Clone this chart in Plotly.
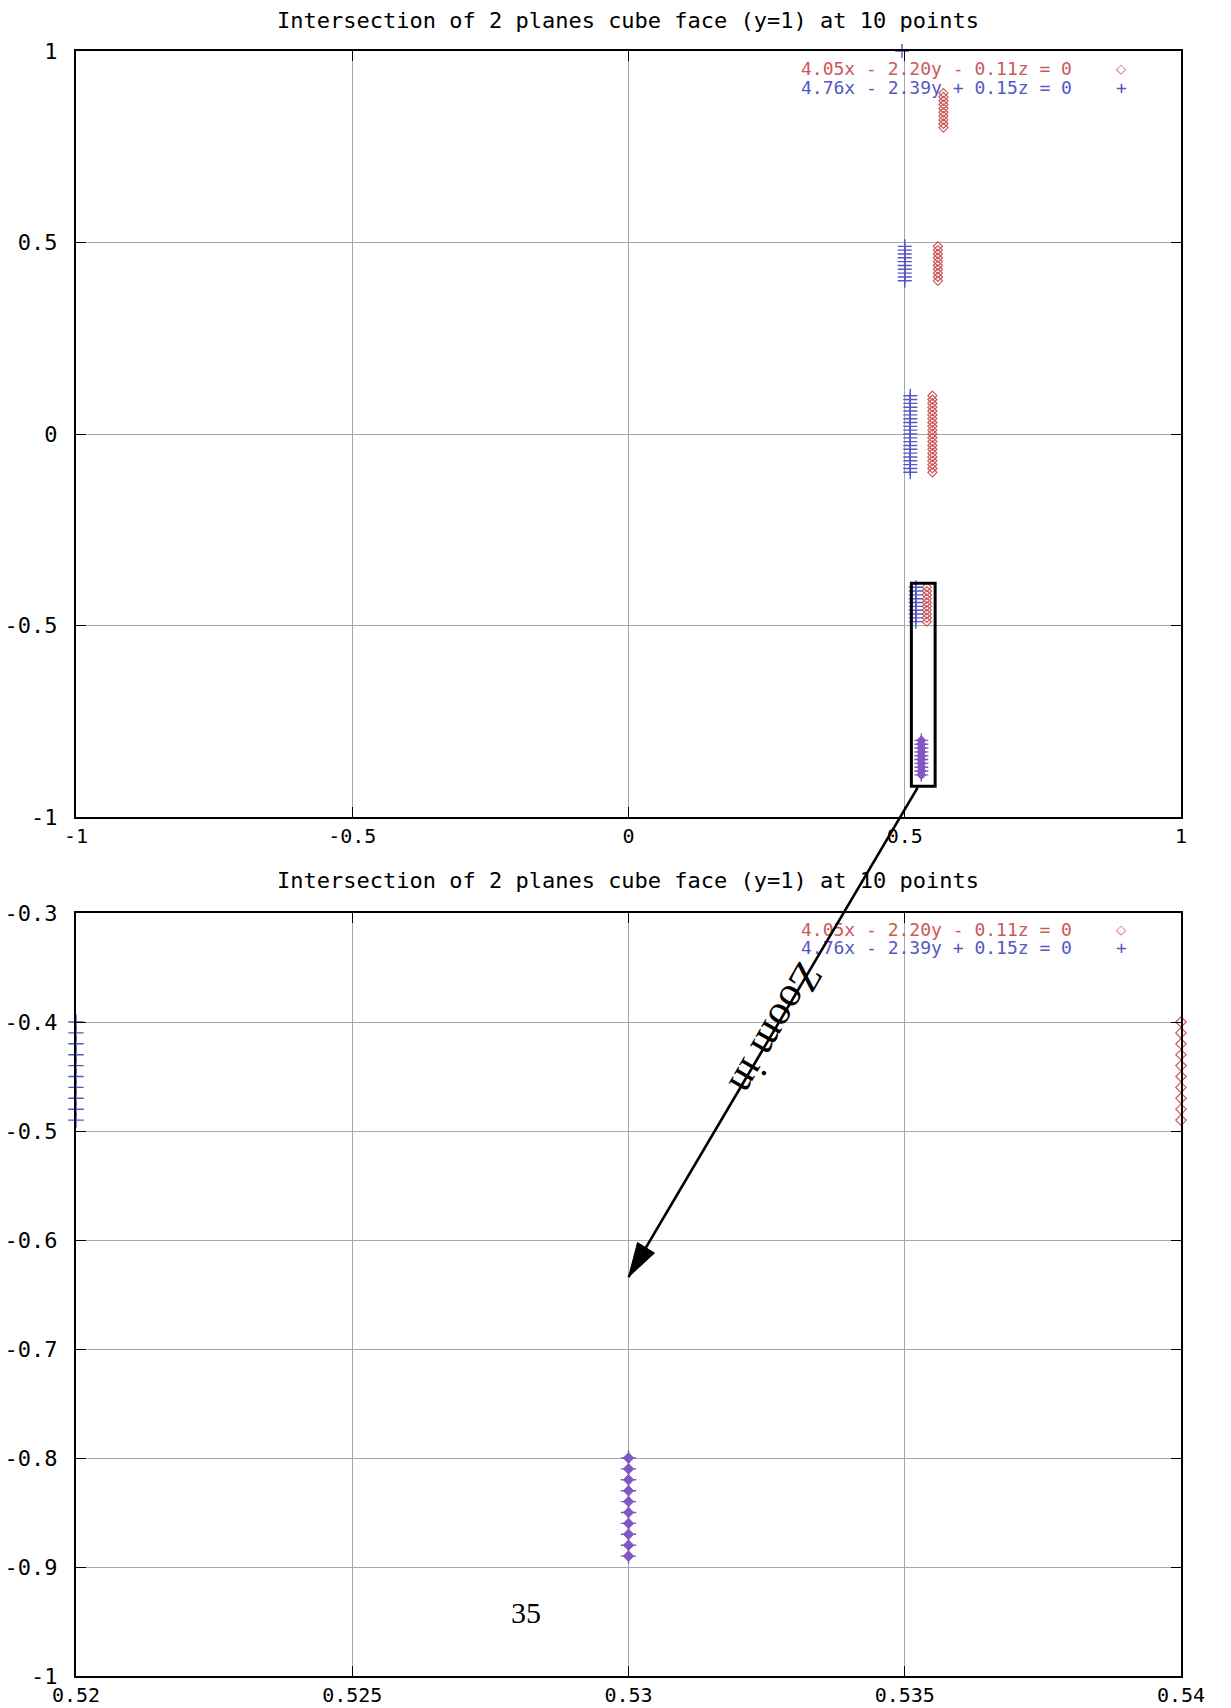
import plotly.graph_objects as go

# ---------------- data ----------------
title_text = "Intersection of 2 planes cube face (y=1) at 10 points"
label_red = "4.05x - 2.20y - 0.11z = 0"
label_blue = "4.76x - 2.39y + 0.15z = 0"

# plane 1 (red diamonds)
red_x = ([0.54] * 10 + [0.55] * 21 + [0.56] * 10 + [0.57] * 10)
red_y = ([-0.40, -0.41, -0.42, -0.43, -0.44, -0.45, -0.46, -0.47, -0.48, -0.49]
         + [-0.10, -0.09, -0.08, -0.07, -0.06, -0.05, -0.04, -0.03, -0.02, -0.01, 0.00,
            0.01, 0.02, 0.03, 0.04, 0.05, 0.06, 0.07, 0.08, 0.09, 0.10]
         + [0.40, 0.41, 0.42, 0.43, 0.44, 0.45, 0.46, 0.47, 0.48, 0.49]
         + [0.80, 0.81, 0.82, 0.83, 0.84, 0.85, 0.86, 0.87, 0.88, 0.89])

# plane 2 (blue crosses)
blue_x = ([0.52] * 10 + [0.51] * 21 + [0.50] * 10 + [0.495])
blue_y = ([-0.40, -0.41, -0.42, -0.43, -0.44, -0.45, -0.46, -0.47, -0.48, -0.49]
          + [-0.10, -0.09, -0.08, -0.07, -0.06, -0.05, -0.04, -0.03, -0.02, -0.01, 0.00,
             0.01, 0.02, 0.03, 0.04, 0.05, 0.06, 0.07, 0.08, 0.09, 0.10]
          + [0.40, 0.41, 0.42, 0.43, 0.44, 0.45, 0.46, 0.47, 0.48, 0.49]
          + [1.00])

# points shared by both planes (drawn purple)
both_x = [0.53] * 10
both_y = [-0.80, -0.81, -0.82, -0.83, -0.84, -0.85, -0.86, -0.87, -0.88, -0.89]

top_ticks = [-1, -0.5, 0, 0.5, 1]
top_ticktext = ["-1", "-0.5", "0", "0.5", "1"]
bot_xticks = [0.52, 0.525, 0.53, 0.535, 0.54]
bot_xticktext = ["0.52", "0.525", "0.53", "0.535", "0.54"]
bot_yticks = [-1, -0.9, -0.8, -0.7, -0.6, -0.5, -0.4, -0.3]
bot_yticktext = ["-1", "-0.9", "-0.8", "-0.7", "-0.6", "-0.5", "-0.4", "-0.3"]

# zoom rectangle (top plot data coords)
rect_x = [0.512, 0.555]
rect_y = [-0.92, -0.39]
arrow_head = [0.530, -0.634]   # in bottom plot data coords

# ---------------- style ----------------
W, H = 1231, 1708
RED = "#cc5858"
BLUE = "#5656c8"
PURPLE = "#8058c0"
GRID = "#a8a8a8"
MONO = "DejaVu Sans Mono"
FS = 22
FS_X = 20
FS_LEG = 18

fig = go.Figure()

for xa, ya, size in (("x", "y", 7), ("x2", "y2", 8)):
    fig.add_trace(go.Scatter(x=red_x, y=red_y, xaxis=xa, yaxis=ya, mode="markers",
                             marker=dict(symbol="diamond-open", size=size, color=RED,
                                         line=dict(width=1.2, color=RED)),
                             showlegend=False, cliponaxis=False))
    fig.add_trace(go.Scatter(x=blue_x, y=blue_y, xaxis=xa, yaxis=ya, mode="markers",
                             marker=dict(symbol="cross-thin", size=size + 3, color=BLUE,
                                         line=dict(width=1.4, color=BLUE)),
                             showlegend=False, cliponaxis=False))
    fig.add_trace(go.Scatter(x=both_x, y=both_y, xaxis=xa, yaxis=ya, mode="markers",
                             marker=dict(symbol="diamond", size=size, color=PURPLE,
                                         line=dict(width=1, color=PURPLE)),
                             showlegend=False, cliponaxis=False))
    fig.add_trace(go.Scatter(x=both_x, y=both_y, xaxis=xa, yaxis=ya, mode="markers",
                             marker=dict(symbol="cross-thin", size=size + 3, color=PURPLE,
                                         line=dict(width=1.4, color=PURPLE)),
                             showlegend=False, cliponaxis=False))

axis_common = dict(showgrid=True, gridcolor=GRID, gridwidth=1, zeroline=False,
                   showline=True, linecolor="black", linewidth=2, mirror="allticks",
                   ticks="inside", ticklen=10, tickcolor="black", tickwidth=1,
                   automargin=False)
yfont = dict(family=MONO, size=FS, color="black")
xfont = dict(family=MONO, size=FS_X, color="black")

xdom = [76 / W, 1181 / W]
fig.update_layout(
    width=W, height=H, margin=dict(l=0, r=0, t=0, b=0, autoexpand=False),
    paper_bgcolor="white", plot_bgcolor="white",
    xaxis=dict(domain=xdom, anchor="y", range=[-1, 1], tickvals=top_ticks,
               ticktext=top_ticktext, ticklabelstandoff=0, tickfont=xfont, **axis_common),
    yaxis=dict(domain=[1 - 817 / H, 1 - 51 / H], anchor="x", range=[-1, 1],
               tickvals=top_ticks, ticktext=top_ticktext, ticklabelstandoff=12,
               tickfont=yfont, **axis_common),
    xaxis2=dict(domain=xdom, anchor="y2", range=[0.52, 0.54], tickvals=bot_xticks,
                ticktext=bot_xticktext, ticklabelstandoff=0, tickfont=xfont, **axis_common),
    yaxis2=dict(domain=[1 - 1676 / H, 1 - 913 / H], anchor="x2", range=[-1, -0.3],
                tickvals=bot_yticks, ticktext=bot_yticktext, ticklabelstandoff=12,
                tickfont=yfont, **axis_common),
)

annotations = []
for ty, ly1, ly2 in ((1 - 21 / H, 1 - 69 / H, 1 - 87.5 / H), (1 - 880 / H, 1 - 929 / H, 1 - 947.5 / H)):
    annotations.append(dict(text=title_text, xref="paper", yref="paper", x=628 / W, y=ty,
                            showarrow=False, font=dict(family=MONO, size=FS, color="black"),
                            xanchor="center", yanchor="middle"))
    annotations.append(dict(text=label_red, xref="paper", yref="paper", x=1074 / W, y=ly1,
                            showarrow=False, font=dict(family=MONO, size=FS_LEG, color=RED),
                            xanchor="right", yanchor="middle"))
    annotations.append(dict(text=label_blue, xref="paper", yref="paper", x=1074 / W, y=ly2,
                            showarrow=False, font=dict(family=MONO, size=FS_LEG, color=BLUE),
                            xanchor="right", yanchor="middle"))
    annotations.append(dict(text="◇", xref="paper", yref="paper", x=1121 / W, y=ly1,
                            showarrow=False, font=dict(family="DejaVu Sans", size=13, color=RED),
                            xanchor="center", yanchor="middle"))
    annotations.append(dict(text="+", xref="paper", yref="paper", x=1121 / W, y=ly2,
                            showarrow=False, font=dict(family=MONO, size=FS_LEG, color=BLUE),
                            xanchor="center", yanchor="middle"))

# arrow line
annotations.append(dict(text="", x=arrow_head[0], y=arrow_head[1], xref="x2", yref="y2",
                        ax=290, ay=-491, axref="pixel", ayref="pixel", showarrow=True,
                        arrowhead=0, arrowwidth=2.6, arrowcolor="black", standoff=0))
annotations.append(dict(text="Zoom in", xref="paper", yref="paper", x=776 / W, y=1 - 1029 / H,
                        showarrow=False, textangle=120,
                        font=dict(family="Liberation Serif", size=42, color="black"),
                        xanchor="center", yanchor="middle"))
annotations.append(dict(text="35", xref="paper", yref="paper", x=526 / W, y=1 - 1612 / H,
                        showarrow=False,
                        font=dict(family="Liberation Serif", size=30, color="black"),
                        xanchor="center", yanchor="middle"))
fig.update_layout(annotations=annotations)

shapes = [
    dict(type="rect", xref="x", yref="y", x0=rect_x[0], x1=rect_x[1], y0=rect_y[0], y1=rect_y[1],
         line=dict(color="black", width=3), fillcolor="rgba(0,0,0,0)", layer="above"),
    dict(type="path", xref="x2", yref="y2", xsizemode="pixel", ysizemode="pixel",
         xanchor=arrow_head[0], yanchor=arrow_head[1],
         path="M0,0 L26,24 L9,34.5 Z", fillcolor="black", line=dict(color="black", width=1),
         layer="above"),
]
fig.update_layout(shapes=shapes)

fig.write_html("out.html", config={"displayModeBar": False},
               post_script="document.body.style.margin='0';document.body.style.padding='0';"
                           "document.body.style.overflow='hidden';")
